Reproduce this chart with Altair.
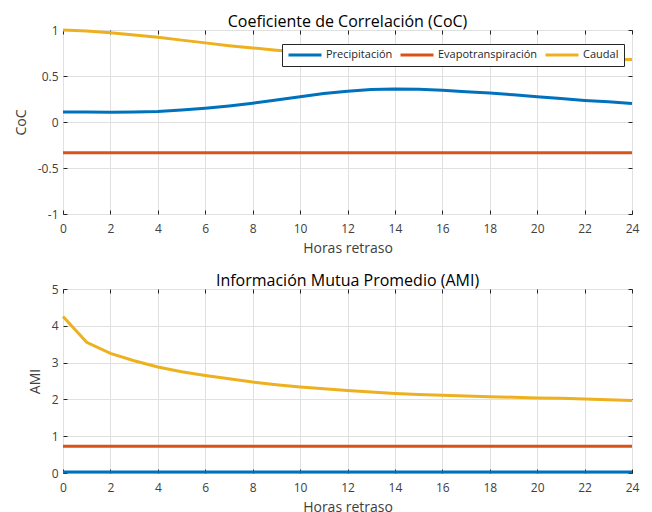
import altair as alt
import pandas as pd

horas = list(range(0, 25))
series = ["Precipitación", "Evapotranspiración", "Caudal"]
colores = ["#0072BD", "#D95319", "#EDB120"]

coc_prec = [0.11, 0.108, 0.105, 0.108, 0.115, 0.13, 0.15, 0.175, 0.205, 0.24, 0.275, 0.31, 0.335,
            0.352, 0.358, 0.355, 0.345, 0.33, 0.315, 0.295, 0.275, 0.255, 0.235, 0.22, 0.2]
coc_evap = [-0.335] * 25
coc_caud = [1.0, 0.99, 0.97, 0.945, 0.92, 0.89, 0.86, 0.83, 0.805, 0.78, 0.76, 0.745, 0.735,
            0.725, 0.715, 0.71, 0.705, 0.70, 0.695, 0.69, 0.69, 0.685, 0.685, 0.68, 0.68]

ami_prec = [0.03] * 25
ami_evap = [0.73] * 25
ami_caud = [4.25, 3.55, 3.25, 3.05, 2.88, 2.75, 2.65, 2.56, 2.47, 2.40, 2.34, 2.29, 2.24,
            2.20, 2.16, 2.13, 2.11, 2.09, 2.07, 2.06, 2.04, 2.03, 2.01, 1.99, 1.97]

x_ticks = list(range(0, 25, 2))
coc_ticks = [-1, -0.5, 0, 0.5, 1]
ami_ticks = [0, 1, 2, 3, 4, 5]


def long_df(vals):
    rows = []
    for name, v in zip(series, vals):
        for h, y in zip(horas, v):
            rows.append({"h": h, "v": y, "serie": name})
    return pd.DataFrame(rows)


FONT = "Open Sans"
TXT = "#262626"
LBL = "#404040"


def panel(df, title, ytitle, ydom, yvals):
    color = alt.Color(
        "serie:N",
        scale=alt.Scale(domain=series, range=colores),
        sort=series,
        legend=alt.Legend(
            title=None, orient="none", legendX=219, legendY=14, direction="horizontal",
            strokeColor=TXT, fillColor="white", padding=5, symbolType="stroke",
            symbolStrokeWidth=3, symbolSize=1089, clipHeight=12, labelFontSize=11,
            labelFont=FONT, labelColor=TXT, columnPadding=6, labelOffset=3,
        ),
    )
    xb = alt.X("h:Q", scale=alt.Scale(domain=[0, 24], nice=False),
               axis=alt.Axis(values=x_ticks, title="Horas retraso", grid=True, domain=False,
                             offset=-4, tickSize=4, labelPadding=9, tickColor=TXT,
                             gridColor="#e0e0e0", labelFontSize=12, titleFontSize=14,
                             labelFont=FONT, titleFont=FONT, labelColor=LBL, titleColor=LBL,
                             titleFontWeight="normal", titlePadding=7, labelFlush=False))
    yl = alt.Y("v:Q", scale=alt.Scale(domain=ydom, nice=False),
               axis=alt.Axis(values=yvals, title=ytitle, grid=True, domain=False,
                             offset=-4, tickSize=4, labelPadding=5, tickColor=TXT,
                             gridColor="#e0e0e0", labelFontSize=12, titleFontSize=14,
                             labelFont=FONT, titleFont=FONT, labelColor=LBL, titleColor=LBL,
                             titleFontWeight="normal", titlePadding=9, labelFlush=False,
                             labelExpr="toString(datum.value)"))
    xt = alt.X("h:Q", scale=alt.Scale(domain=[0, 24], nice=False),
               axis=alt.Axis(orient="top", values=x_ticks, title=None, labels=False, grid=False,
                             domain=False, offset=-4, tickSize=4, tickColor=TXT))
    yr = alt.Y("v:Q", scale=alt.Scale(domain=ydom, nice=False),
               axis=alt.Axis(orient="right", values=yvals, title=None, labels=False, grid=False,
                             domain=False, offset=-4, tickSize=4, tickColor=TXT))
    lines = alt.Chart(df).mark_line(strokeWidth=3).encode(x=xb, y=yl, color=color)
    frame = alt.Chart(df).mark_line(opacity=0).encode(x=xt, y=yr, detail="serie:N")
    return alt.layer(lines, frame).resolve_axis(x="independent", y="independent").properties(
        width=569, height=184,
        title=alt.TitleParams(title, fontSize=16, font=FONT, color="black",
                              fontWeight="normal", offset=-3, dy=3),
    )


top = panel(long_df([coc_prec, coc_evap, coc_caud]), "Coeficiente de Correlación (CoC)",
            "CoC", [-1, 1], coc_ticks)
bot = panel(long_df([ami_prec, ami_evap, ami_caud]), "Información Mutua Promedio (AMI)",
            "AMI", [0, 5], ami_ticks)

chart = alt.vconcat(top, bot, spacing=16).configure(
    padding={"left": 13, "top": 13, "right": 5, "bottom": 0},
    background="white",
).configure_view(stroke=TXT, strokeWidth=1)

chart.save("out.html", embed_options={"renderer": "svg", "actions": False})
